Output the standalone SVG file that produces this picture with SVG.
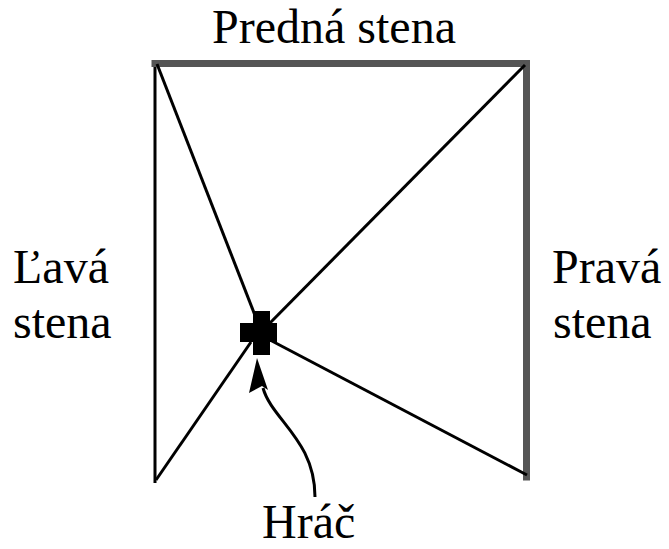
<svg xmlns="http://www.w3.org/2000/svg" width="669" height="549" viewBox="0 0 669 549">
<style>
.t{font-family:"Liberation Serif","Times New Roman",serif;font-size:48px;fill:#000}
.wall{stroke:#555;stroke-width:7;fill:none;stroke-linecap:square}
.ln{stroke:#000;stroke-width:3;fill:none}
</style>
<rect width="669" height="549" fill="#fff"/>
<g id="connectors">
<line class="ln" x1="155" y1="63" x2="155" y2="483"/>
<polyline class="wall" points="155,63.5 526.5,63.5 526.5,477"/>
<line class="ln" x1="157" y1="64" x2="256" y2="318"/>
<line class="ln" x1="525" y1="65" x2="266" y2="327"/>
<line class="ln" x1="156" y1="480" x2="251" y2="342"/>
<line class="ln" x1="527" y1="475" x2="270" y2="340"/>
<path class="ln" d="M263 388 C272 420 315 440 315 497"/>
<polygon points="257,358 249,393 262,386 268,390" fill="#000"/>
</g>
<g id="player">
<polygon points="253,311 270,311 270,323 277,323 277,342 270,342 270,355 253,355 253,342 240,342 240,323 253,323" fill="#000"/>
</g>
<g id="front"><text class="t" x="334" y="43" text-anchor="middle">Predná stena</text></g>
<g id="left"><text class="t" x="13" y="283">Ľavá</text><text class="t" x="13" y="338">stena</text></g>
<g id="right"><text class="t" x="552" y="283">Pravá</text><text class="t" x="553" y="338">stena</text></g>
<g id="hrac"><text class="t" x="262" y="538">Hráč</text></g>
</svg>
